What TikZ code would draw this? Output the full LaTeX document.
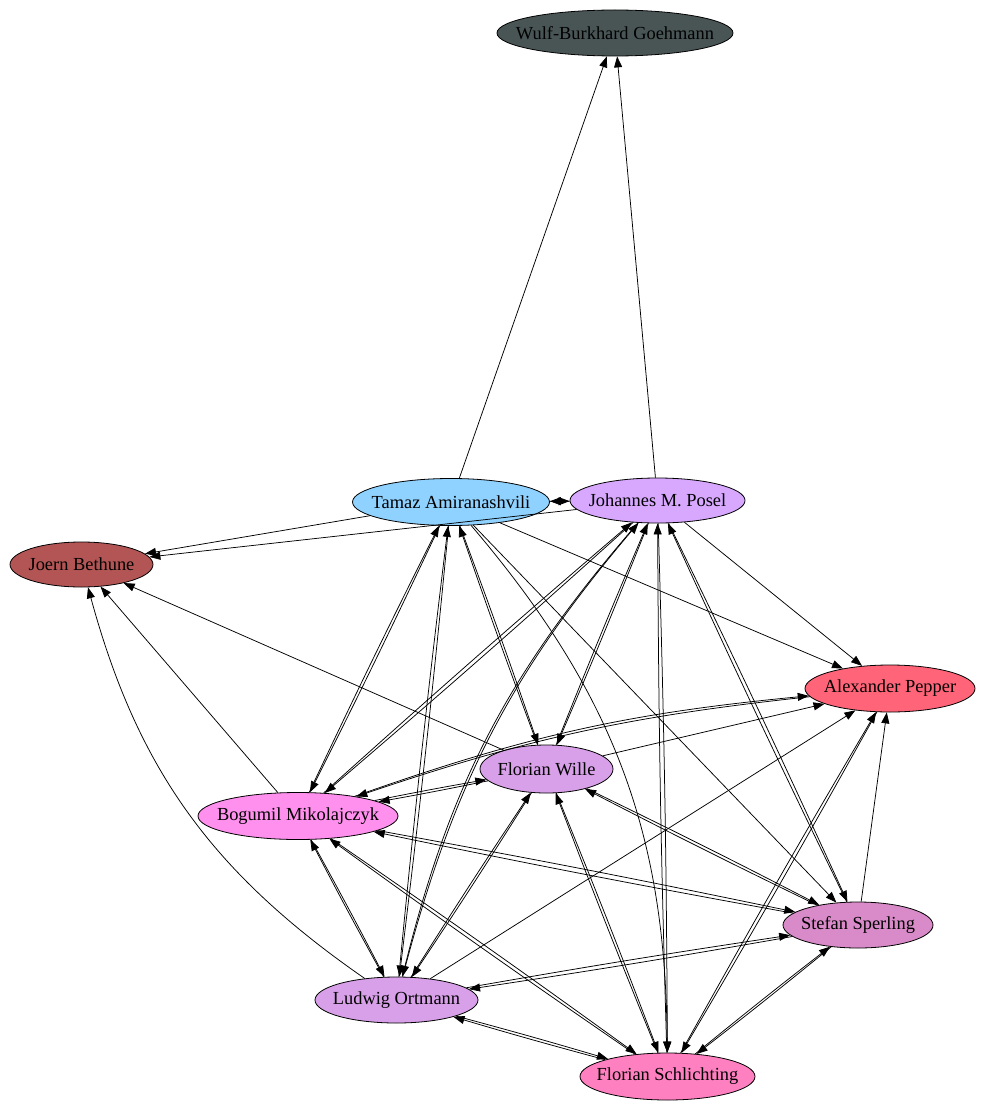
\documentclass[tikz,border=0pt]{standalone}
\usepackage{fontspec}
\setmainfont{Liberation Serif}
\usetikzlibrary{shapes.geometric,arrows.meta}
\definecolor{cG}{RGB}{73,85,85}
\definecolor{cT}{RGB}{143,210,255}
\definecolor{cP}{RGB}{216,168,255}
\definecolor{cJ}{RGB}{179,85,85}
\definecolor{cA}{RGB}{255,100,120}
\definecolor{cW}{RGB}{216,160,232}
\definecolor{cB}{RGB}{255,144,238}
\definecolor{cS}{RGB}{217,138,200}
\definecolor{cL}{RGB}{216,160,232}
\definecolor{cF}{RGB}{255,128,192}
\newcommand{\nodetext}[1]{\makebox[0pt]{#1}}
\begin{document}
\begin{tikzpicture}[x=1pt,y=1pt,
  nd/.style={ellipse,draw=black,line width=0.8pt,inner sep=0pt,
    font=\fontsize{18.4}{22}\selectfont},
  >={Triangle[length=11pt,width=8pt]},
  ed/.style={->,line width=0.75pt},
  dbl/.style={bend left=0.7}]
\useasboundingbox (0,0) rectangle (984,-1110);

\node[nd,fill=cG,minimum width=236pt,minimum height=46pt] (G) at (615,-33) {\nodetext{Wulf-Burkhard Goehmann}};
\node[nd,fill=cT,minimum width=197pt,minimum height=47pt] (T) at (451,-502) {\nodetext{Tamaz Amiranashvili}};
\node[nd,fill=cP,minimum width=175pt,minimum height=45pt] (P) at (657.5,-500.5) {\nodetext{Johannes M. Posel}};
\node[nd,fill=cJ,minimum width=143pt,minimum height=45pt] (J) at (81.5,-564.5) {\nodetext{Joern Bethune}};
\node[nd,fill=cA,minimum width=170pt,minimum height=47pt] (A) at (890,-688.5) {\nodetext{Alexander Pepper}};
\node[nd,fill=cW,minimum width=133pt,minimum height=48pt] (W) at (546.5,-769) {\nodetext{Florian Wille}};
\node[nd,fill=cB,minimum width=200pt,minimum height=47pt] (B) at (298,-816) {\nodetext{Bogumil Mikolajczyk}};
\node[nd,fill=cS,minimum width=150pt,minimum height=46pt] (S) at (858,-925) {\nodetext{Stefan Sperling}};
\node[nd,fill=cL,minimum width=163pt,minimum height=46pt] (L) at (396.5,-1000) {\nodetext{Ludwig Ortmann}};
\node[nd,fill=cF,minimum width=175pt,minimum height=47pt] (F) at (667.5,-1076.5) {\nodetext{Florian Schlichting}};

% one-way edges
\draw[ed] (T) -- (G);
\draw[ed] (P) -- (G);
\draw[ed] (T) -- (J);
\draw[ed] (P) -- (J);
\draw[ed] (W) -- (J);
\draw[ed] (B) -- (J);
\draw[ed] (L) to[bend left=20] (J);
\draw[ed] (T) -- (A);
\draw[ed] (P) -- (A);
\draw[ed] (W) -- (A);
\draw[ed] (L) -- (A);
\draw[ed] (S) -- (A);
\draw[ed] (T) to[bend left=20] (F);
\draw[ed] (T) -- (S);

% two-way edges
\draw[ed] (T) -- (P);
\draw[ed] (P) -- (T);
\draw[ed] (B) to[bend left=7] (A);
\draw[ed] (A) to[bend right=6.3] (B);
\draw[ed] (F) to[dbl] (A);
\draw[ed] (A) to[dbl] (F);
\draw[ed] (T) to[dbl] (B);
\draw[ed] (B) to[dbl] (T);
\draw[ed] (P) to[dbl] (B);
\draw[ed] (B) to[dbl] (P);
\draw[ed] (T) to[dbl] (L);
\draw[ed] (L) to[dbl] (T);
\draw[ed] (P) to[bend right=13.5] (L);
\draw[ed] (L) to[bend left=12.8] (P);
\draw[ed] (T) to[dbl] (W);
\draw[ed] (W) to[dbl] (T);
\draw[ed] (P) to[dbl] (W);
\draw[ed] (W) to[dbl] (P);
\draw[ed] (P) to[dbl] (F);
\draw[ed] (F) to[dbl] (P);
\draw[ed] (P) to[dbl] (S);
\draw[ed] (S) to[dbl] (P);
\draw[ed] (B) to[dbl] (W);
\draw[ed] (W) to[dbl] (B);
\draw[ed] (B) to[dbl] (L);
\draw[ed] (L) to[dbl] (B);
\draw[ed] (W) to[dbl] (L);
\draw[ed] (L) to[dbl] (W);
\draw[ed] (W) to[dbl] (F);
\draw[ed] (F) to[dbl] (W);
\draw[ed] (W) to[dbl] (S);
\draw[ed] (S) to[dbl] (W);
\draw[ed] (B) to[dbl] (S);
\draw[ed] (S) to[dbl] (B);
\draw[ed] (B) to[dbl] (F);
\draw[ed] (F) to[dbl] (B);
\draw[ed] (L) to[dbl] (S);
\draw[ed] (S) to[dbl] (L);
\draw[ed] (L) to[dbl] (F);
\draw[ed] (F) to[dbl] (L);
\draw[ed] (S) to[dbl] (F);
\draw[ed] (F) to[dbl] (S);
\end{tikzpicture}
\end{document}
